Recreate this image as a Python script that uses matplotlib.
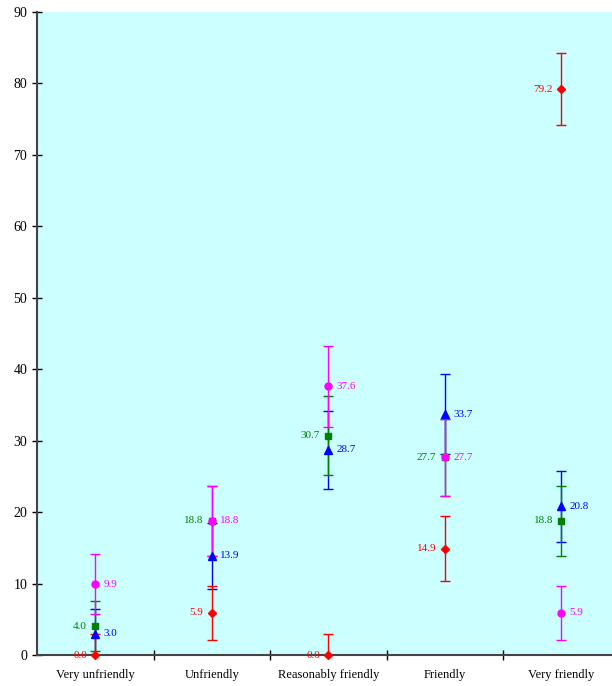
import matplotlib
matplotlib.use("Agg")
import matplotlib.pyplot as plt
import numpy as np

categories = ["Very unfriendly", "Unfriendly", "Reasonably friendly", "Friendly", "Very friendly"]

blue_vals = [3.0, 13.9, 28.7, 33.7, 20.8]
blue_err = [3.4, 4.6, 5.5, 5.6, 5.0]
green_vals = [4.0, 18.8, 30.7, 27.7, 18.8]
green_err = [3.5, 4.9, 5.5, 5.4, 4.9]
magenta_vals = [9.9, 18.8, 37.6, 27.7, 5.9]
magenta_err = [4.2, 4.9, 5.7, 5.4, 3.8]
red_vals = [0.0, 5.9, 0.0, 14.9, 79.2]
red_err = [3.0, 3.8, 3.0, 4.6, 5.0]

yticks = [0, 10, 20, 30, 40, 50, 60, 70, 80, 90]

plt.rcParams['font.family'] = ['Liberation Serif', 'DejaVu Serif']

fig = plt.figure(figsize=(6.12, 6.86), dpi=100)
W, H = 612, 686
ax = fig.add_axes([37 / W, (686 - 655) / H, (619.5 - 37) / W, (655 - 12) / H])
ax.set_facecolor('#CCFFFF')

x = np.arange(len(categories))

series = [
    (blue_vals, blue_err, '#0000FF', '^', 5.5, 'right'),
    (green_vals, green_err, '#008000', 's', 4.5, 'left'),
    (magenta_vals, magenta_err, '#FF00FF', 'o', 5.0, 'right'),
    (red_vals, red_err, '#FF0000', 'D', 4.0, 'left'),
]

for vals, err, col, mk, ms, side in series:
    ax.errorbar(x, vals, yerr=err, fmt='none', ecolor=col,
                elinewidth=1, capsize=3.5, capthick=1, clip_on=True, zorder=3)
for vals, err, col, mk, ms, side in series:
    ax.plot(x, vals, linestyle='none', marker=mk, color=col, ms=ms,
            clip_on=False, zorder=4)
    for xi, v in zip(x, vals):
        if side == 'right':
            ax.annotate(f"{v:.1f}", (xi, v), xytext=(6, 0), textcoords='offset points',
                        ha='left', va='center', color=col, fontsize=8, zorder=5,
                        annotation_clip=False)
        else:
            ax.annotate(f"{v:.1f}", (xi, v), xytext=(-6, 0), textcoords='offset points',
                        ha='right', va='center', color=col, fontsize=8, zorder=5,
                        annotation_clip=False)

ax.set_xlim(-0.5, 4.5)
ax.set_ylim(0, 90)
ax.set_yticks(yticks)
ax.tick_params(axis='y', direction='inout', length=7, labelsize=10, width=1)
ax.set_xticks(np.arange(0.5, 4.5, 1.0))
ax.set_xticklabels([])
ax.tick_params(axis='x', direction='inout', length=7, width=1)
for xi, c in zip(x, categories):
    ax.text(xi, -1.9, c, ha='center', va='top', fontsize=9)

for s in ['top', 'right']:
    ax.spines[s].set_visible(False)
for s in ['left', 'bottom']:
    ax.spines[s].set_color('#444444')
    ax.spines[s].set_linewidth(1.5)

fig.savefig("out.png", dpi=100)
